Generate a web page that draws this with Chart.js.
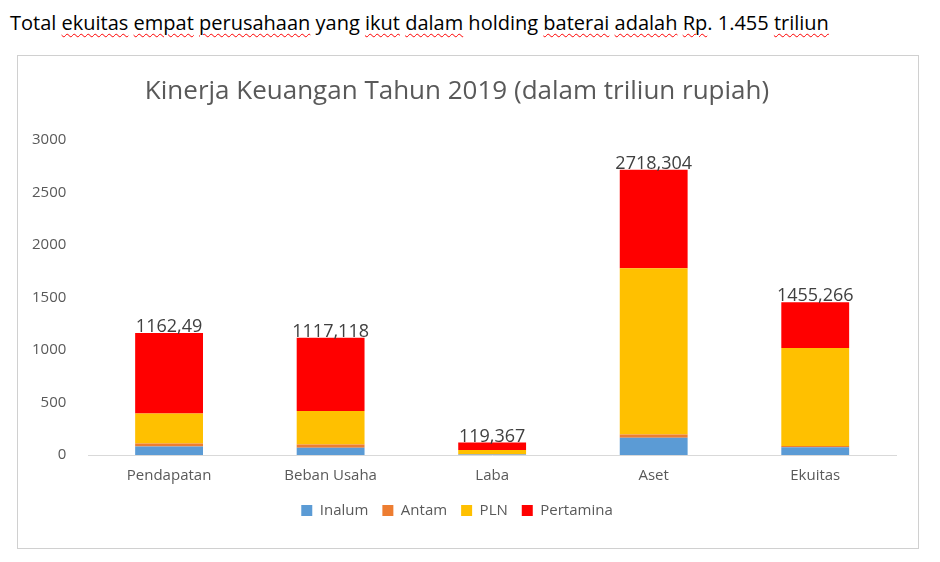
<!DOCTYPE html>
<html><head><meta charset="utf-8">
<script src="https://cdn.jsdelivr.net/npm/chart.js@4"></script>
<style>
body{margin:0;background:#fff;width:940px;height:562px;position:relative;font-family:"Open Sans",sans-serif;}
#hdr{position:absolute;left:10px;top:9px;font-size:20px;color:#000;}
.sp{text-decoration:underline wavy red;text-decoration-thickness:1px;text-underline-offset:3px;}
#box{position:absolute;left:17px;top:55px;width:900px;height:492px;border:1px solid #d0d0d0;}
</style></head><body>
<div id="hdr">Total <span class="sp">ekuitas</span> <span class="sp">empat</span> <span class="sp">perusahaan</span> yang <span class="sp">ikut</span> <span class="sp">dalam</span> holding <span class="sp">baterai</span> <span class="sp">adalah</span> <span class="sp">Rp</span>. 1.455 <span class="sp">triliun</span></div>
<div id="box"><canvas id="c" width="900" height="492"></canvas></div>
<script>
const categories=["Pendapatan","Beban Usaha","Laba","Aset","Ekuitas"];
const inalum=[80,70,5,165,75];
const antam=[30,30,2,30,10];
const pln=[285,320,40,1585,935];
const pertamina=[767.49,697.118,72.367,938.304,435.266];
const totalLabels=["1162,49","1117,118","119,367","2718,304","1455,266"];
const yTicks=[0,500,1000,1500,2000,2500,3000];

const totalsPlugin={id:'totals',afterDatasetsDraw(chart){
  const ctx=chart.ctx;const meta=chart.getDatasetMeta(3);
  ctx.save();ctx.font='18px "Open Sans",sans-serif';ctx.fillStyle='#404040';ctx.textAlign='center';ctx.textBaseline='bottom';
  meta.data.forEach((b,i)=>ctx.fillText(totalLabels[i],b.x,b.y+3));ctx.restore();}};

new Chart(document.getElementById('c'),{type:'bar',
data:{labels:categories,datasets:[
{label:'Inalum',data:inalum,backgroundColor:'#5b9bd5'},
{label:'Antam',data:antam,backgroundColor:'#ed7d31'},
{label:'PLN',data:pln,backgroundColor:'#ffc000'},
{label:'Pertamina',data:pertamina,backgroundColor:'#ff0000'}]},
options:{responsive:false,animation:false,
layout:{padding:{left:0,right:22,top:0,bottom:20}},
datasets:{bar:{barPercentage:0.42,categoryPercentage:1}},
plugins:{title:{display:true,text:'Kinerja Keuangan Tahun 2019 (dalam triliun rupiah)',color:'#595959',font:{family:'"Open Sans",sans-serif',size:26,weight:'normal'},padding:{top:20,bottom:33}},
legend:{position:'bottom',labels:{boxWidth:11,boxHeight:11,color:'#595959',font:{family:'"Open Sans",sans-serif',size:15},padding:14}},tooltip:{enabled:false}},
scales:{x:{stacked:true,grid:{display:false},border:{color:'#d9d9d9'},ticks:{color:'#595959',font:{family:'"Open Sans",sans-serif',size:15},padding:4}},
y:{stacked:true,min:0,max:3000,afterBuildTicks(s){s.ticks=yTicks.map(v=>({value:v}));},grid:{display:false},border:{display:false},ticks:{color:'#595959',font:{family:'"Open Sans",sans-serif',size:15},padding:14,callback:v=>String(v)}}}},
plugins:[totalsPlugin]});
</script></body></html>
